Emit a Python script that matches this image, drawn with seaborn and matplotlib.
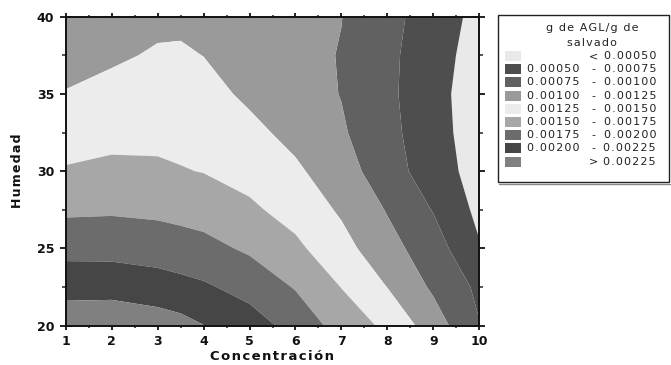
import numpy as np
import matplotlib
matplotlib.use("Agg")
import matplotlib.pyplot as plt
import seaborn as sns
from matplotlib.patches import Rectangle
from matplotlib.ticker import MultipleLocator

# Concentración (x) and Humedad (y) grid nodes
concentracion = [1, 2, 3, 3.5, 4, 5, 6, 7, 8, 9, 10]
humedad = [20.0, 22.5, 25.0, 27.5, 30.0, 32.5, 35.0, 37.5, 40.0]

# g de AGL / g de salvado at each node, one list per humidity level
agl_h200 = [0.002410, 0.002430, 0.002377, 0.002333, 0.002255, 0.002110, 0.001915, 0.001650, 0.001447, 0.001124, 0.000760]
agl_h225 = [0.002162, 0.002161, 0.002113, 0.002073, 0.002033, 0.001916, 0.001733, 0.001494, 0.001246, 0.000960, 0.000700]
agl_h250 = [0.001921, 0.001917, 0.001886, 0.001857, 0.001826, 0.001712, 0.001551, 0.001338, 0.001085, 0.000867, 0.000520]
agl_h275 = [0.001707, 0.001719, 0.001699, 0.001675, 0.001648, 0.001541, 0.001412, 0.001216, 0.000984, 0.000738, 0.000440]
agl_h300 = [0.001521, 0.001554, 0.001539, 0.001513, 0.001492, 0.001419, 0.001290, 0.001110, 0.000860, 0.000622, 0.000400]
agl_h325 = [0.001388, 0.001428, 0.001438, 0.001430, 0.001410, 0.001312, 0.001180, 0.001029, 0.000824, 0.000592, 0.000380]
agl_h350 = [0.001263, 0.001321, 0.001357, 0.001355, 0.001329, 0.001206, 0.001110, 0.000992, 0.000803, 0.000582, 0.000370]
agl_h375 = [0.001156, 0.001215, 0.001275, 0.001279, 0.001247, 0.001150, 0.001070, 0.000989, 0.000808, 0.000597, 0.000400]
agl_h400 = [0.001110, 0.001160, 0.001196, 0.001202, 0.001170, 0.001100, 0.001050, 0.001004, 0.000826, 0.000633, 0.000428]

# Contour class limits and their gray fills (lowest class first)
niveles = [0.00050, 0.00075, 0.00100, 0.00125, 0.00150, 0.00175, 0.00200, 0.00225]
grises = ["#e9e9e9", "#4e4e4e", "#616161", "#9a9a9a", "#ececec",
          "#a7a7a7", "#6c6c6c", "#464646", "#808080"]

sns.set_theme(style="white")
plt.rcParams["font.family"] = ["DejaVu Sans"]

W, H = 671, 365
fig = plt.figure(figsize=(W / 100, H / 100), dpi=100)
fig.patch.set_facecolor("white")

HAIR = "\u200a"


def spaced(s):
    return HAIR.join(s)


def fx(px):
    return px / W


def fy(py):
    return 1 - py / H


ax = fig.add_axes([fx(65.7), fy(325.7), (479.3 - 65.7) / W, (325.7 - 16.7) / H])

Z = np.array([agl_h200, agl_h225, agl_h250, agl_h275, agl_h300,
              agl_h325, agl_h350, agl_h375, agl_h400])
limites = [0.0] + niveles + [1.0]
ax.contourf(concentracion, humedad, Z, levels=limites, colors=grises, antialiased=True)

ax.set_xlim(1, 10)
ax.set_ylim(20, 40)
ax.xaxis.set_major_locator(MultipleLocator(1))
ax.xaxis.set_minor_locator(MultipleLocator(0.5))
ax.yaxis.set_major_locator(MultipleLocator(5))
ax.yaxis.set_minor_locator(MultipleLocator(2.5))

ax.tick_params(axis="x", which="major", direction="inout", length=6, width=1.3,
               top=True, bottom=True, labelsize=9, pad=3.5, colors="#111111")
ax.tick_params(axis="x", which="minor", direction="inout", length=3.5, width=1.1,
               top=True, bottom=True)
ax.tick_params(axis="y", which="major", direction="inout", length=9, width=1.3,
               left=True, right=True, labelsize=9, pad=3.8, colors="#111111")
ax.tick_params(axis="y", which="minor", direction="inout", length=5.5, width=1.1,
               left=True, right=True)
for lab in ax.get_xticklabels() + ax.get_yticklabels():
    lab.set_fontweight("bold")

for sp in ax.spines.values():
    sp.set_color("#111111")
    sp.set_linewidth(1.4)

ax.set_xlabel(spaced("Concentración"), fontsize=9.5, fontweight="bold", labelpad=1.5, color="#111111")
ax.set_ylabel(spaced("Humedad"), fontsize=9, fontweight="bold", labelpad=9, color="#111111")

# Legend box drawn in figure pixels
caja = Rectangle((fx(498), fy(182)), (669 - 498) / W, (182 - 15) / H,
                 transform=fig.transFigure, facecolor="white", edgecolor="#222222", lw=1.0)
fig.add_artist(caja)
fig.add_artist(plt.Line2D([fx(499), fx(670)], [fy(183.5), fy(183.5)],
                          transform=fig.transFigure, color="#888888", lw=1.0))

txt = dict(fontsize=8, color="#222222", va="center")
fig.text(fx(592), fy(28), spaced("g de AGL/g de"), ha="center", **txt)
fig.text(fx(592), fy(42.5), spaced("salvado"), ha="center", **txt)

etiquetas = [spaced(f"{v:.5f}") for v in niveles]
for i, color in enumerate(grises):
    yc = 56 + 13.2 * i
    fig.add_artist(Rectangle((fx(505), fy(yc + 5)), 16 / W, 10 / H,
                             transform=fig.transFigure, facecolor=color, edgecolor="none"))
    if i == 0:
        fig.text(fx(594), fy(yc), "<", ha="center", **txt)
        fig.text(fx(656), fy(yc), etiquetas[0], ha="right", **txt)
    elif i == len(grises) - 1:
        fig.text(fx(594), fy(yc), ">", ha="center", **txt)
        fig.text(fx(656), fy(yc), etiquetas[-1], ha="right", **txt)
    else:
        fig.text(fx(527), fy(yc), etiquetas[i - 1], ha="left", **txt)
        fig.text(fx(593), fy(yc), "-", ha="center", **txt)
        fig.text(fx(656), fy(yc), etiquetas[i], ha="right", **txt)

fig.savefig("out.png", dpi=100, facecolor="white")
